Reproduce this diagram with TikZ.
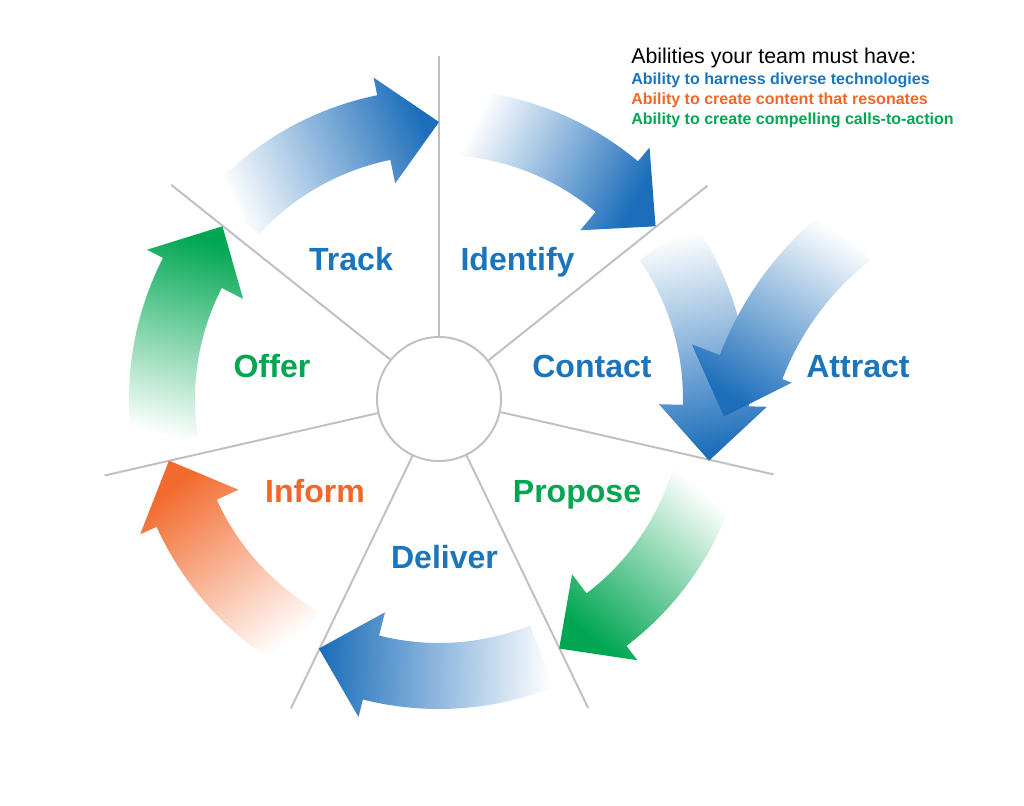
\documentclass[tikz,border=0pt]{standalone}
\usepackage{fontspec}
\setmainfont{Liberation Sans}

\definecolor{stepblue}{RGB}{27,117,188}
\definecolor{stepgreen}{RGB}{0,166,81}
\definecolor{steporange}{RGB}{241,103,41}
\definecolor{spokegray}{RGB}{192,192,192}
\definecolor{headblue}{RGB}{28,110,187}
\definecolor{midblue}{RGB}{152,172,222}
\definecolor{headgreen}{RGB}{0,166,81}
\definecolor{midgreen}{RGB}{132,204,162}
\definecolor{headorange}{RGB}{242,106,45}
\definecolor{midorange}{RGB}{247,176,136}

\tikzset{
  spoke/.style={draw=spokegray, line width=1.4pt},
  steplabel/.style={font=\fontsize{22.8}{27}\selectfont\bfseries, anchor=base, inner sep=0pt},
  ability/.style={font=\fontsize{11.4}{13}\selectfont\bfseries, anchor=base west, inner sep=0pt},
  fadeblue/.style={top color=headblue, middle color=midblue, bottom color=white},
  fadegreen/.style={top color=headgreen, middle color=midgreen, bottom color=white},
  fadeorange/.style={top color=headorange, middle color=midorange, bottom color=white}
}

\begin{document}
\begin{tikzpicture}[x=0.025cm, y=0.025cm]
    \useasboundingbox (0,0) rectangle (1024,805);

    % hub in the middle
    \node[circle, draw=spokegray, line width=1.4pt, fill=white, minimum size=3.1cm, inner sep=0pt] (hub) at (439,406) {};

    % seven spokes
    \foreach \a in {90,38.57,-12.86,-64.29,-115.71,-167.14,141.43}
        \draw[spoke] (hub.\a) -- ++(\a:280);

    % ring arrows, each one ends on a spoke
    \begin{scope}[shift={(439,406)}]
        \foreach \t/\f in {90/fadeblue, 38.57/fadeblue, -12.86/fadeblue, -64.29/fadegreen,
                           -115.71/fadeblue, -167.14/fadeorange, 141.43/fadegreen} {
            \pgfmathsetmacro\tail{\t+47.6}
            \pgfmathsetmacro\base{\t+11.5}
            \pgfmathsetmacro\shang{\t-156.2}
            \shade[\f, shading angle=\shang] (\tail:244) arc[start angle=\tail, end angle=\base, radius=244]
                -- (\base:220) -- (\t:277) -- (\base:328) -- (\base:310)
                arc[start angle=\base, end angle=\tail, radius=310] -- cycle;
        }
    \end{scope}

    % the attract arrow from outside
    \begin{scope}[shift={(1040,327)}]
        \shade[fadeblue, shading angle=148.5] (128:276) arc[start angle=128, end angle=159, radius=276]
            -- (159:266) -- (169:322) -- (159:373) -- (159:343)
            arc[start angle=159, end angle=128, radius=343] -- cycle;
    \end{scope}

    % step names
    \node[steplabel, text=stepblue] (track) at (351,535) {Track};
    \node[steplabel, text=stepblue] (identify) at (517.5,535) {Identify};
    \node[steplabel, text=stepblue] (contact) at (592,428) {Contact};
    \node[steplabel, text=stepblue] (attract) at (858,428) {Attract};
    \node[steplabel, text=stepgreen] (offer) at (272,428) {Offer};
    \node[steplabel, text=steporange] (inform) at (315,303) {Inform};
    \node[steplabel, text=stepgreen] (propose) at (577,303) {Propose};
    \node[steplabel, text=stepblue] (deliver) at (444.5,237) {Deliver};

    % legend
    \node[anchor=base west, inner sep=0pt, font=\fontsize{15.2}{18}\selectfont] (legendtitle) at (631,741) {Abilities your team must have:};
    \node[ability, text=stepblue] (abtech) at (631,720) {Ability to harness diverse technologies};
    \node[ability, text=steporange] (abcontent) at (631,700) {Ability to create content that resonates};
    \node[ability, text=stepgreen] (abcalls) at (631,680) {Ability to create compelling calls-to-action};
\end{tikzpicture}
\end{document}
